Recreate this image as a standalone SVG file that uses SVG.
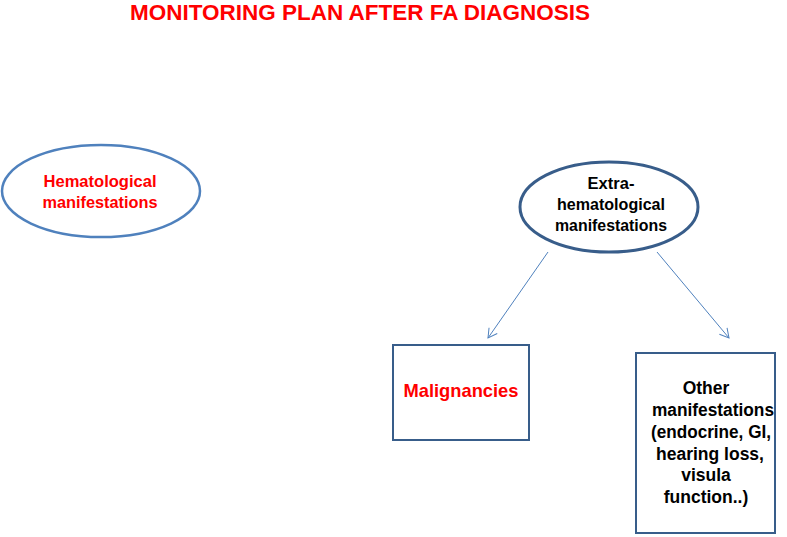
<svg xmlns="http://www.w3.org/2000/svg" width="787" height="537" viewBox="0 0 787 537">
<style>
text{font-family:"Liberation Sans",Arial,sans-serif;font-weight:bold;text-anchor:middle}
.red{fill:#FF0000}
.blk{fill:#000000}
.conn{stroke:#4F81BD;stroke-width:1;fill:none}
</style>
<defs>
<marker id="arr" markerWidth="12" markerHeight="12" refX="10" refY="6" orient="auto" markerUnits="userSpaceOnUse">
<path d="M1,1 L10,6 L1,11" fill="none" stroke="#4F81BD" stroke-width="1"/>
</marker>
</defs>
<rect width="787" height="537" fill="#FFFFFF"/>
<text id="title" class="red" x="360" y="20" font-size="22.5" textLength="460" lengthAdjust="spacingAndGlyphs">MONITORING PLAN AFTER FA DIAGNOSIS</text>
<g id="hematological">
<ellipse cx="101" cy="191" rx="99" ry="46" fill="#FFFFFF" stroke="#4F81BD" stroke-width="2.5"/>
<text class="red" x="100" y="187" font-size="16.5" textLength="113" lengthAdjust="spacingAndGlyphs">Hematological</text>
<text class="red" x="100" y="208" font-size="16.5" textLength="115" lengthAdjust="spacingAndGlyphs">manifestations</text>
</g>
<g id="extra">
<ellipse cx="609" cy="207" rx="89" ry="45" fill="#FFFFFF" stroke="#385D8A" stroke-width="3"/>
<text class="blk" x="611" y="189" font-size="16.5">Extra-</text>
<text class="blk" x="611" y="210" font-size="16.5" textLength="108" lengthAdjust="spacingAndGlyphs">hematological</text>
<text class="blk" x="611" y="231" font-size="16.5" textLength="112" lengthAdjust="spacingAndGlyphs">manifestations</text>
</g>
<g id="connectors">
<line class="conn" x1="548" y1="252" x2="488" y2="338" marker-end="url(#arr)"/>
<line class="conn" x1="657" y1="252" x2="729" y2="338" marker-end="url(#arr)"/>
</g>
<g id="malignancies">
<rect x="393" y="345" width="136" height="95" fill="#FFFFFF" stroke="#385D8A" stroke-width="2"/>
<text class="red" x="461" y="397" font-size="19" textLength="115" lengthAdjust="spacingAndGlyphs">Malignancies</text>
</g>
<g id="other">
<rect x="636" y="353" width="139" height="180" fill="#FFFFFF" stroke="#385D8A" stroke-width="2"/>
<text class="blk" x="706" y="394" font-size="17.5">Other</text>
<text class="blk" x="713" y="416" font-size="17.5" textLength="122" lengthAdjust="spacingAndGlyphs">manifestations</text>
<text class="blk" x="711" y="438" font-size="17.5" textLength="120" lengthAdjust="spacingAndGlyphs">(endocrine, GI,</text>
<text class="blk" x="710" y="460" font-size="17.5">hearing loss,</text>
<text class="blk" x="706" y="481" font-size="17.5">visula</text>
<text class="blk" x="706" y="503" font-size="17.5">function..)</text>
</g>
</svg>
